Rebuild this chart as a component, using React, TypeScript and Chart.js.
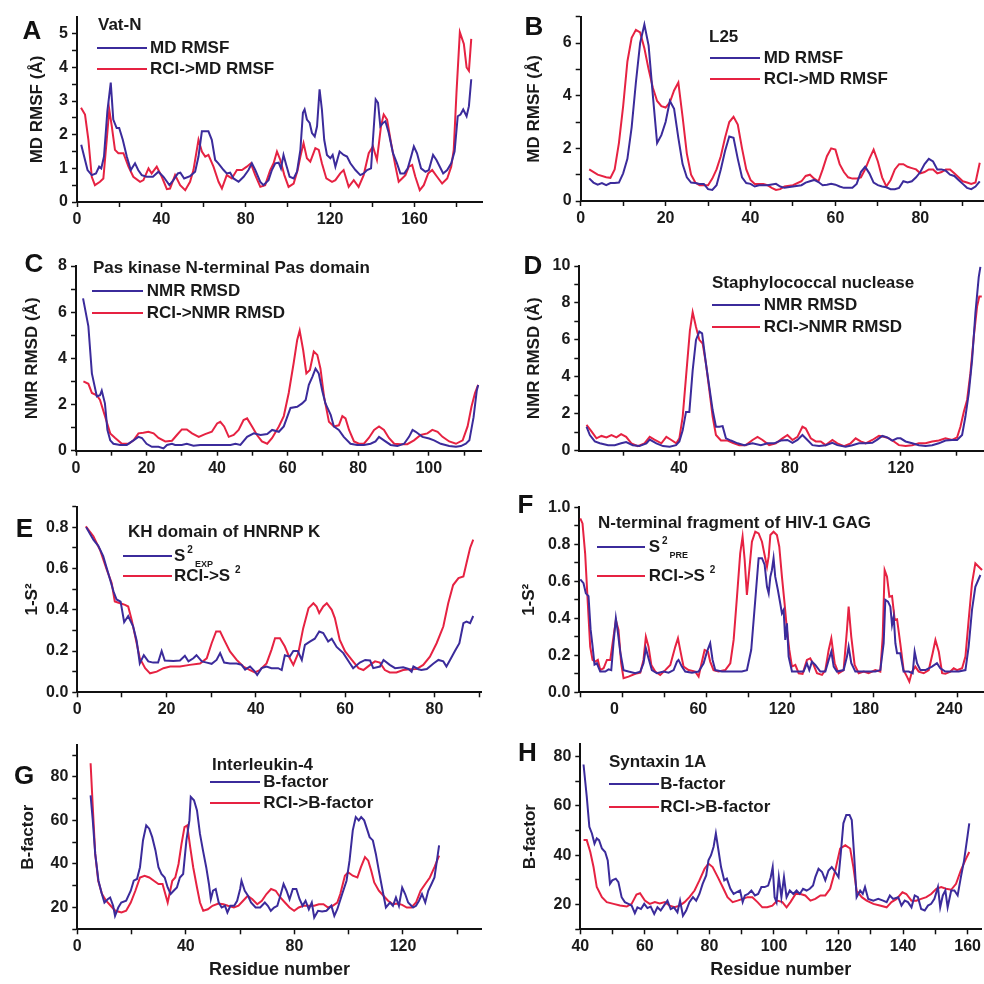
import React, { useEffect, useRef } from 'react';
import { Chart, registerables } from 'chart.js';

Chart.register(...registerables);

const FONT = '"Liberation Sans", Arial, Helvetica, sans-serif';
const BLUE = '#3b2b9b';
const RED = '#e62242';

// ---------- Panel A: Vat-N ----------
const A_MD = [[2,1.7],[5,0.95],[7,0.8],[9,0.85],[10.5,1.05],[11.5,1.0],[12.8,1.35],[14.4,2.7],[16,3.55],[17.2,2.45],[18.8,2.2],[20,2.2],[21.7,1.85],[23.6,1.35],[25.5,0.95],[27.5,1.15],[29,0.95],[30.7,0.8],[33,0.75],[36,0.75],[38.6,0.9],[41,0.75],[43.8,0.5],[45.7,0.65],[47.8,0.85],[49,0.87],[50.8,0.7],[53.6,0.77],[56,0.9],[57.6,1.35],[59.2,2.1],[62.3,2.1],[63.9,1.85],[65.5,1.25],[67,1.15],[69.5,0.95],[71,0.85],[72.6,0.87],[74.2,0.7],[76.6,0.6],[79,0.75],[81.3,0.95],[82.9,1.15],[84.5,0.95],[86.9,0.6],[88.4,0.5],[90.8,0.65],[92.4,0.95],[94,1.15],[95.6,1.17],[96.7,1.0],[97.9,1.4],[99.2,1.1],[100.8,0.75],[102.7,0.7],[104.3,0.9],[105.9,1.55],[107.1,2.65],[107.9,2.75],[109,2.45],[110.3,2.35],[111.4,2.05],[112.7,1.95],[113.8,2.25],[115,3.35],[116.1,2.75],[117.2,1.85],[118.5,1.4],[120.1,1.3],[121.2,1.4],[122.5,1.05],[124.5,1.5],[126.4,1.4],[128,1.35],[129.6,1.15],[132,0.95],[134.3,0.8],[135.9,0.85],[137.5,0.95],[139.4,1.0],[140.3,1.85],[141.6,3.05],[142.7,2.95],[143.8,2.25],[145.1,2.35],[146.2,2.4],[147.8,2.05],[149.8,1.45],[151.7,1.15],[153.3,0.85],[155.2,0.85],[156.8,1.0],[158.4,1.35],[159.7,1.65],[161.2,1.45],[163.1,1.0],[165.2,0.9],[166.8,0.95],[168.8,1.4],[170.4,1.25],[172,1.05],[173.6,0.85],[175.5,0.95],[177.4,1.15],[179,1.5],[180.5,2.55],[181.8,2.6],[183.1,2.75],[184.7,2.55],[185.8,2.85],[186.9,3.65]];
const A_RCI = [[1.9,2.8],[3.8,2.6],[5.4,1.85],[7,0.75],[8.5,0.5],[10.9,0.6],[12.5,0.7],[14.1,1.85],[15.3,2.75],[16.5,2.25],[18,1.55],[19.6,1.45],[22,1.45],[24.4,1.05],[26.7,0.75],[29.9,0.6],[31.5,0.65],[33.9,1.0],[35.4,0.85],[37.8,1.05],[40.2,0.75],[42.6,0.38],[44.1,0.4],[46.5,0.8],[48.9,0.5],[51.3,0.35],[53.6,0.6],[55.2,0.95],[57.6,1.85],[59.2,1.5],[60.8,1.35],[62.3,1.4],[64.7,1.05],[67.1,0.6],[68.7,0.4],[71,0.8],[73.4,0.7],[75.8,0.95],[78.2,0.95],[80.5,1.05],[82.4,1.15],[84.5,0.8],[86.9,0.45],[89.2,0.5],[91.6,0.95],[93.2,1.15],[94.8,1.5],[96.4,1.25],[98.3,0.8],[100.3,0.45],[102.7,0.55],[104.6,0.95],[105.9,1.35],[107.4,1.75],[109,1.3],[110.6,1.2],[113,1.6],[114.6,1.55],[116.1,1.15],[118.2,0.7],[120.9,0.6],[122.5,0.65],[124.8,0.85],[126.4,0.95],[128.8,0.45],[131.2,0.65],[133.5,0.45],[135.9,0.8],[138.3,1.45],[140.3,1.65],[142.2,1.25],[144.1,2.25],[145.4,2.6],[147,2.45],[148.9,1.75],[151,1.05],[152.5,0.6],[154.1,0.7],[155.7,0.8],[157.3,1.05],[158.9,1.1],[160.4,0.75],[162.5,0.35],[164.4,0.5],[166.5,0.85],[168.4,0.95],[170.7,0.75],[173.1,0.55],[175.5,0.7],[177.4,1.05],[178.6,1.55],[179.9,3.25],[181.5,5.05],[183.4,4.7],[184.7,4.0],[185.8,3.9],[186.9,4.85]];
const A_X_TICKS = [0,20,40,60,80,100,120,140,160,180];
const A_X_LABELS = [0,40,80,120,160];
const A_Y_TICKS = [0,0.5,1,1.5,2,2.5,3,3.5,4,4.5,5];
const A_Y_LABELS = [0,1,2,3,4,5];

// ---------- Panel B: L25 ----------
const B_MD = [[2,0.86],[3,0.7],[4,0.62],[5,0.68],[6,0.6],[7,0.68],[8,0.68],[9,0.7],[10,1.05],[11,1.6],[12,2.8],[13,4.5],[14,6.0],[15,6.7],[16,5.9],[17,4.0],[18,2.2],[19,2.5],[20,3.0],[21,3.8],[22,3.5],[23,2.4],[24,1.4],[25,0.9],[26,0.7],[27,0.68],[28,0.65],[29,0.65],[30,0.45],[31,0.42],[32,0.6],[33,1.2],[34,1.9],[35,2.45],[36,2.4],[37,1.6],[38,0.9],[39,0.68],[40,0.65],[41,0.55],[42,0.6],[44,0.6],[46,0.65],[47,0.55],[48,0.5],[50,0.55],[52,0.6],[53,0.7],[54,0.75],[55,0.8],[56,0.72],[57,0.6],[58,0.62],[59,0.65],[60,0.62],[61,0.55],[62,0.5],[63,0.5],[64,0.5],[65,0.65],[66,1.1],[67,1.3],[68,1.05],[69,0.7],[70,0.6],[71,0.55],[72,0.52],[73,0.45],[74,0.45],[75,0.5],[76,0.75],[77,0.7],[78,0.75],[79,0.9],[80,1.1],[81,1.4],[82,1.6],[83,1.5],[84,1.2],[85,1.2],[86,1.15],[87,1.0],[88,0.95],[89,0.8],[90,0.65],[91,0.5],[92,0.45],[93,0.55],[94,0.75]];
const B_RCI = [[2,1.2],[4,1.0],[6,0.9],[7,0.88],[8,1.2],[9,2.2],[10,3.6],[11,5.3],[12,6.2],[13,6.5],[14,6.4],[15,5.8],[16,5.0],[17,4.3],[18,3.8],[19,3.6],[20,3.55],[21,3.75],[22,4.2],[23,4.5],[24,3.2],[25,1.8],[26,1.0],[27,0.7],[28,0.6],[29,0.6],[30,0.6],[31,0.85],[32,1.2],[33,1.7],[34,2.4],[35,3.0],[36,3.2],[37,2.9],[38,2.0],[39,1.2],[40,0.8],[41,0.65],[42,0.65],[43,0.65],[44,0.6],[45,0.5],[46,0.42],[47,0.45],[48,0.55],[50,0.6],[52,0.75],[53,0.95],[54,1.0],[55,0.85],[56,0.75],[57,1.2],[58,1.7],[59,2.0],[60,1.95],[61,1.4],[62,1.1],[63,0.9],[64,0.85],[65,0.85],[66,0.9],[67,1.2],[68,1.6],[69,1.95],[70,1.5],[71,0.9],[72,0.55],[73,0.8],[74,1.2],[75,1.4],[76,1.4],[77,1.3],[78,1.25],[79,1.2],[80,1.05],[81,1.1],[82,1.2],[83,1.2],[84,1.05],[85,1.1],[86,1.2],[87,1.2],[88,1.05],[89,0.9],[90,0.75],[91,0.7],[92,0.65],[93,0.7],[94,1.45]];
const B_X_TICKS = [0,10,20,30,40,50,60,70,80,90];
const B_X_LABELS = [0,20,40,60,80];
const B_Y_TICKS = [0,1,2,3,4,5,6,7];
const B_Y_LABELS = [0,2,4,6];

// ---------- Panel C: Pas kinase ----------
const C_MD = [[2,6.6],[3.5,5.4],[4.5,3.35],[5.9,2.35],[6.8,2.4],[7.3,2.6],[8.2,2.05],[8.9,0.9],[9.7,0.45],[10.6,0.3],[12.5,0.25],[14.4,0.25],[16.3,0.45],[17.7,0.6],[18.7,0.55],[20,0.3],[21.5,0.17],[23.4,0.17],[24.8,0.1],[25.8,0.25],[27.2,0.3],[28.1,0.25],[30,0.25],[31.4,0.3],[33.3,0.22],[35.2,0.25],[37.1,0.25],[39,0.25],[40.9,0.25],[43.8,0.25],[45.2,0.3],[46.6,0.25],[48.5,0.6],[50.4,0.75],[52.3,0.68],[54.2,0.72],[55.6,0.9],[57.5,0.82],[58.9,1.05],[60.8,1.85],[62.7,1.9],[64.1,2.05],[65.1,2.2],[66,2.85],[67,3.2],[67.9,3.55],[68.8,3.35],[69.8,2.6],[70.7,2.05],[72.2,1.55],[73.1,1.05],[74.5,0.9],[75.9,0.6],[77.8,0.3],[79.7,0.25],[81.6,0.25],[83.5,0.3],[84.9,0.4],[85.9,0.6],[87.3,0.45],[89.2,0.25],[91.1,0.2],[93,0.3],[94.4,0.6],[95.4,0.9],[96.3,0.82],[98.2,0.6],[100.1,0.53],[101.5,0.45],[103.4,0.3],[105.8,0.2],[107.7,0.17],[109.1,0.2],[110.5,0.3],[111.5,0.45],[112.7,1.45],[113.6,2.6],[114,2.85]];
const C_RCI = [[2.1,3.0],[3.5,2.9],[4.5,2.5],[5.9,2.4],[6.8,2.2],[8.2,1.5],[9.7,0.75],[11.1,0.55],[13,0.3],[14.9,0.3],[16.3,0.45],[17.7,0.75],[19.1,0.78],[20.5,0.82],[22,0.75],[23.4,0.55],[25.3,0.4],[27.2,0.43],[28.6,0.68],[30,0.92],[31.4,0.92],[32.9,0.75],[34.8,0.6],[36.6,0.72],[38.5,0.82],[40,1.18],[40.9,1.25],[42,1.05],[43.3,0.6],[44.7,0.68],[46.1,0.9],[47.5,1.33],[48.5,1.4],[49.9,1.05],[51.3,0.68],[52.7,0.4],[54.2,0.3],[55.6,0.55],[57.5,1.05],[58.9,1.5],[60.3,2.5],[61.7,3.8],[62.7,4.8],[63.4,5.2],[64.4,4.35],[65.3,3.35],[66.3,3.5],[67.4,4.3],[68.4,4.15],[69.3,3.55],[70.3,2.35],[71.7,1.25],[73.1,1.05],[74.5,1.1],[75.5,1.5],[76.4,1.4],[77.4,0.9],[78.8,0.4],[80.2,0.3],[81.6,0.3],[83,0.55],[84.5,0.9],[85.9,1.05],[87.3,0.9],[88.7,0.55],[90.2,0.3],[92,0.28],[93.9,0.28],[95.8,0.45],[97.7,0.68],[99.6,0.75],[101,0.9],[102.5,0.82],[103.9,0.6],[105.8,0.4],[107.7,0.3],[109.6,0.45],[111,1.05],[112.1,1.9],[113.1,2.5],[114,2.85]];
const C_X_TICKS = [0,10,20,30,40,50,60,70,80,90,100,110];
const C_X_LABELS = [0,20,40,60,80,100];
const C_Y_TICKS = [0,1,2,3,4,5,6,7,8];
const C_Y_LABELS = [0,2,4,6,8];

// ---------- Panel D: Staphylococcal nuclease ----------
const D_MD = [[6.6,1.3],[7.8,0.85],[9.6,0.5],[11.4,0.4],[14.4,0.3],[16.8,0.3],[19.1,0.4],[20.9,0.47],[23.3,0.3],[25.7,0.25],[28.2,0.4],[29.4,0.6],[31.8,0.4],[34.2,0.25],[36.6,0.22],[38.9,0.3],[40.1,0.5],[41.3,1.1],[42.5,2.1],[43.7,2.1],[44.9,4.35],[46.1,6.0],[47.3,6.45],[48.3,6.35],[49.7,4.7],[50.9,3.45],[52.1,2.2],[53.3,1.3],[54.5,1.3],[55.7,1.33],[56.9,0.67],[58.7,0.55],[61.1,0.4],[63.5,0.3],[66.5,0.4],[69.5,0.3],[71.9,0.4],[74.3,0.4],[76.7,0.55],[79.1,0.58],[80.9,0.43],[82.7,0.58],[84.5,0.85],[86.3,0.58],[88.1,0.3],[90.5,0.25],[92.9,0.3],[95.3,0.43],[97.1,0.3],[100.1,0.22],[102.5,0.3],[104.9,0.4],[107.3,0.4],[109.7,0.43],[111.5,0.6],[113.3,0.8],[115.1,0.72],[116.9,0.55],[118.7,0.67],[119.9,0.67],[121.7,0.5],[124.1,0.4],[126.5,0.3],[128.9,0.25],[131.3,0.3],[133.7,0.4],[136.1,0.55],[138.5,0.58],[140.3,0.58],[142.1,0.85],[143.3,1.85],[144.5,3.1],[145.7,4.9],[146.9,7.45],[148.1,9.4],[148.7,9.95]];
const D_RCI = [[6.6,1.4],[8.4,1.05],[10.2,0.67],[12,0.8],[13.8,0.72],[15.6,0.85],[17.4,0.72],[19.1,0.9],[20.9,0.75],[22.8,0.4],[25.1,0.25],[27.5,0.4],[29.4,0.75],[31.1,0.6],[33.6,0.4],[35.4,0.75],[37.2,0.58],[39,0.4],[40.1,0.67],[41.3,1.85],[42.5,4.0],[43.9,6.5],[44.9,7.5],[46.1,6.7],[47.3,6.0],[48.5,5.8],[49.7,4.7],[50.9,3.3],[52.1,1.85],[53.3,0.85],[55.1,0.55],[57.5,0.55],[59.3,0.43],[61.7,0.3],[64.1,0.3],[66.5,0.58],[68.3,0.75],[70.1,0.58],[72.5,0.3],[74.9,0.4],[77.3,0.67],[79.1,0.85],[80.9,0.58],[82.7,0.75],[84.5,1.3],[85.7,1.2],[87.5,0.67],[89.3,0.5],[91.1,0.5],[92.9,0.3],[95.3,0.58],[97.1,0.4],[99.5,0.25],[101.9,0.4],[103.7,0.67],[105.5,0.5],[107.3,0.4],[109.7,0.58],[112.1,0.8],[113.9,0.75],[115.7,0.67],[117.5,0.5],[119.3,0.3],[121.7,0.25],[124.1,0.3],[126.5,0.4],[128.9,0.4],[131.3,0.5],[133.7,0.55],[136.1,0.67],[138.5,0.58],[140.3,0.72],[141.5,1.3],[142.7,2.1],[143.9,2.75],[145.1,4.2],[146.3,6.15],[147.5,7.8],[148.3,8.35],[149.2,8.35]];
const D_X_TICKS = [20,40,60,80,100,120,140];
const D_X_LABELS = [40,80,120];
const D_Y_TICKS = [0,1,2,3,4,5,6,7,8,9,10];
const D_Y_LABELS = [0,2,4,6,8,10];

// ---------- Panel E: KH domain of HNRNP K ----------
const E_EXP = [[2,0.8],[3.6,0.74],[4.7,0.71],[5.8,0.66],[6.9,0.58],[8.1,0.49],[8.8,0.45],[9.7,0.44],[10.5,0.34],[11.4,0.37],[12.5,0.32],[13.3,0.25],[14,0.14],[14.9,0.18],[15.9,0.15],[17,0.144],[18.1,0.144],[18.9,0.2],[19.6,0.154],[21.5,0.152],[23,0.154],[24.1,0.177],[24.9,0.15],[26,0.165],[26.7,0.18],[27.9,0.15],[29,0.144],[30.1,0.138],[31.2,0.157],[32,0.19],[32.9,0.144],[34.2,0.14],[35.7,0.14],[36.8,0.133],[37.6,0.11],[38.7,0.125],[39.8,0.1],[40.3,0.084],[41.3,0.117],[42.4,0.125],[43.5,0.117],[45,0.117],[45.8,0.108],[46.5,0.18],[47.6,0.173],[48.4,0.2],[49.4,0.2],[50.3,0.157],[51,0.23],[52.1,0.246],[53.2,0.26],[54.2,0.295],[55.1,0.287],[56.2,0.246],[57,0.26],[58.1,0.22],[59.6,0.19],[61.1,0.14],[61.8,0.117],[63.3,0.144],[64.5,0.157],[65.6,0.154],[66.3,0.117],[67.8,0.125],[68.6,0.157],[70,0.133],[71.2,0.117],[73,0.121],[74.2,0.113],[74.9,0.1],[75.3,0.125],[76.4,0.112],[77.1,0.108],[78.3,0.113],[79.8,0.14],[80.9,0.157],[82,0.15],[82.7,0.125],[83.6,0.16],[84.6,0.2],[85.6,0.238],[86.5,0.335],[87.2,0.343],[88,0.335],[88.7,0.37]];
const E_RCI = [[1.9,0.805],[3.6,0.757],[5.1,0.69],[6.6,0.595],[7.7,0.53],[8.4,0.44],[9.6,0.432],[10.7,0.424],[11.4,0.416],[12.2,0.35],[13.3,0.238],[14,0.165],[15.2,0.117],[16.3,0.092],[17.8,0.1],[19.3,0.117],[20.8,0.125],[23,0.125],[25.2,0.133],[27.5,0.14],[29,0.165],[30.1,0.238],[31.1,0.295],[32,0.295],[32.9,0.254],[34.2,0.198],[35.7,0.157],[37.2,0.125],[38.7,0.108],[39.8,0.096],[40.9,0.108],[42.4,0.14],[43.5,0.206],[44.3,0.262],[45.4,0.262],[46.5,0.222],[47.6,0.165],[48.4,0.133],[49.5,0.19],[50.6,0.31],[51.8,0.408],[52.9,0.432],[53.6,0.416],[54.2,0.384],[55.1,0.416],[55.9,0.432],[57,0.4],[57.7,0.36],[58.8,0.254],[60,0.198],[61.5,0.157],[63,0.117],[64.1,0.108],[65.6,0.133],[66.7,0.15],[67.8,0.144],[68.9,0.108],[70,0.096],[71.5,0.096],[73,0.108],[74.5,0.112],[76,0.113],[77.5,0.133],[79,0.173],[80.5,0.238],[82,0.319],[83.1,0.432],[84.2,0.52],[85.4,0.554],[86.5,0.562],[87.2,0.627],[88,0.7],[88.7,0.74]];
const E_X_TICKS = [0,10,20,30,40,50,60,70,80,90];
const E_X_LABELS = [0,20,40,60,80];
const E_Y_TICKS = [0,0.1,0.2,0.3,0.4,0.5,0.6,0.7,0.8,0.9];
const E_Y_LABELS = [0,0.2,0.4,0.6,0.8];

// ---------- Panel F: N-terminal fragment of HIV-1 GAG ----------
const F_PRE = [[-30.3,0.61],[-28,0.59],[-26.3,0.535],[-24.4,0.52],[-22.9,0.34],[-21.5,0.25],[-20.1,0.15],[-18.4,0.157],[-16,0.112],[-12.4,0.112],[-10,0.124],[-8.1,0.12],[-6.5,0.265],[-4.8,0.4],[-3.3,0.32],[-1.7,0.22],[0.7,0.12],[4.3,0.112],[9.1,0.103],[12.7,0.112],[15,0.157],[16.7,0.238],[18.6,0.184],[21,0.12],[24.6,0.103],[29.4,0.112],[33,0.106],[36.6,0.12],[39,0.166],[40.1,0.175],[42.5,0.139],[44.9,0.112],[49.7,0.106],[54.5,0.112],[58.1,0.157],[60.5,0.22],[62.8,0.265],[64.5,0.175],[66.4,0.12],[71.2,0.112],[78.4,0.112],[85.5,0.112],[89.1,0.12],[92.2,0.23],[95.1,0.5],[97.5,0.725],[99.9,0.725],[101.8,0.69],[103.5,0.57],[104.7,0.535],[105.9,0.625],[107,0.66],[108.2,0.725],[109.4,0.625],[111.3,0.553],[113,0.48],[114.2,0.427],[115.4,0.445],[116.6,0.283],[117.8,0.373],[119,0.193],[121.4,0.112],[126.2,0.112],[129.7,0.112],[132.1,0.157],[133.8,0.12],[135.7,0.166],[138.1,0.148],[141.7,0.112],[145.3,0.112],[147.7,0.175],[149.6,0.22],[151.3,0.139],[153.6,0.112],[158.4,0.12],[160.8,0.193],[162,0.247],[163.9,0.157],[166.8,0.112],[171.6,0.112],[176.3,0.112],[181.1,0.112],[184.7,0.12],[187.1,0.265],[188.3,0.5],[190.2,0.49],[191.9,0.463],[193.1,0.364],[194.3,0.409],[195.5,0.265],[196.7,0.211],[199,0.211],[201.4,0.112],[205,0.112],[207.9,0.103],[209.3,0.22],[211,0.157],[213.4,0.12],[217,0.12],[221.7,0.139],[225.3,0.157],[227.7,0.13],[231.3,0.112],[236.1,0.112],[240.9,0.112],[245.7,0.12],[248,0.247],[250.4,0.445],[252.8,0.57],[256.4,0.634]];
const F_RCI = [[-30.3,0.94],[-28.7,0.913],[-26.8,0.75],[-24.9,0.48],[-23.2,0.247],[-21.5,0.175],[-19.6,0.166],[-17.7,0.175],[-16,0.12],[-13.6,0.13],[-11.2,0.175],[-8.8,0.175],[-6.5,0.3],[-4.8,0.39],[-2.9,0.337],[-1,0.157],[0.7,0.076],[4.3,0.085],[9.1,0.1],[12.7,0.106],[15,0.175],[16.7,0.3],[18.6,0.247],[20.6,0.148],[23.4,0.112],[27,0.094],[30.6,0.12],[34.2,0.148],[37.8,0.247],[39.7,0.292],[41.3,0.229],[43.7,0.139],[47.3,0.12],[52.1,0.112],[54.5,0.085],[56.9,0.166],[58.8,0.229],[61.2,0.22],[62.8,0.166],[65.2,0.12],[68.8,0.112],[73.6,0.12],[77.2,0.157],[79.6,0.283],[82,0.517],[84.3,0.751],[86,0.841],[87.5,0.715],[89.1,0.526],[90.8,0.661],[92.7,0.814],[95.1,0.868],[97.5,0.859],[99.9,0.814],[101.8,0.742],[103.5,0.679],[104.7,0.733],[105.9,0.85],[108.2,0.868],[110.6,0.85],[112.3,0.787],[114.2,0.625],[116.1,0.481],[117.8,0.337],[119.5,0.229],[121.4,0.139],[123.8,0.148],[126.2,0.103],[129,0.1],[132.1,0.175],[134.5,0.184],[136.9,0.148],[139.3,0.103],[142.9,0.094],[145.3,0.12],[147.7,0.229],[149.6,0.292],[152,0.157],[154.8,0.103],[158.4,0.12],[160.8,0.337],[162,0.463],[163.9,0.3],[166.3,0.148],[169.2,0.103],[172.8,0.112],[176.3,0.103],[181.1,0.12],[184.7,0.112],[186.4,0.3],[187.8,0.661],[189.5,0.625],[191.2,0.517],[193.1,0.521],[195,0.391],[196.7,0.395],[199,0.265],[201.4,0.12],[203.8,0.085],[205.5,0.058],[207.4,0.112],[209.8,0.139],[212.2,0.112],[215.8,0.103],[219.4,0.12],[222.2,0.211],[224.2,0.283],[226.6,0.22],[229,0.103],[231.3,0.1],[234.9,0.112],[237.3,0.13],[239.7,0.12],[243.3,0.13],[245.7,0.193],[248,0.391],[250.4,0.589],[252.8,0.697],[255.2,0.679],[257.6,0.661]];
const F_X_TICKS = [-30,0,30,60,90,120,150,180,210,240];
const F_X_LABELS = [0,60,120,180,240];
const F_Y_TICKS = [0,0.1,0.2,0.3,0.4,0.5,0.6,0.7,0.8,0.9,1.0];
const F_Y_LABELS = [0,0.2,0.4,0.6,0.8,1.0];

// ---------- Panel G: Interleukin-4 ----------
const G_BF = [[4.9,71.5],[5.7,60],[6.6,44.6],[7.8,32.3],[8.9,26.9],[10,22.3],[11.2,23.8],[12.1,24.6],[13.2,20.8],[13.9,16.2],[15.1,20],[16.2,22.3],[18,23.1],[19.7,27.7],[20.8,32.3],[22,33.1],[23.1,38.5],[24.2,50.8],[25.4,57.7],[26.5,56.2],[27.6,52.3],[28.8,46.2],[29.9,38.5],[31,35.4],[32.2,33.8],[33.3,29.2],[34.4,26.2],[35.5,27.7],[36.7,29.2],[37.8,33.8],[39,35.4],[40.2,50.8],[41.3,60],[41.8,70.8],[43,69.2],[44.1,64.6],[45.2,53.8],[46.3,46.2],[47.5,38.5],[48.5,30.8],[49.2,23.8],[50,27.7],[51,28.5],[52.1,22.3],[53.2,20],[54.4,20.8],[55.3,17.7],[56.4,20.8],[57.8,20.8],[58.9,23.1],[60,28.5],[60.5,32.3],[61.7,27.7],[62.9,25.4],[64,22.3],[65.7,20],[67.4,20],[69.1,22.3],[70.2,20.8],[71.3,18.5],[72.5,20],[73.7,20.8],[74.8,25.4],[76,30.8],[77.1,27.7],[78.2,23.8],[79.4,28.5],[80.7,28.5],[81.9,23.8],[83,20.8],[84.1,23.1],[85.3,19.2],[86.4,22.3],[87.3,15.4],[88.7,18.5],[90.2,18.2],[91.8,18.5],[93.6,20.8],[94.7,16.2],[95.8,19.2],[97.6,26.2],[99.2,32.3],[100.3,41.5],[101.5,55.4],[102.6,61.5],[103.7,60],[104.6,61.5],[105.7,60],[106.9,55.4],[107.7,52.3],[108.9,50.8],[110,44.6],[111.1,36.9],[112.5,27.7],[113.7,20],[115.2,22.3],[116.3,20.8],[117.4,24.6],[118.5,20.8],[119.7,29.2],[120.8,26.2],[121.9,22.3],[123.7,20],[124.8,20.8],[125.9,23.1],[127,26.2],[128.2,22.3],[129.3,27.7],[130.5,30.8],[131.6,33.8],[132.5,41.5],[133.3,48.5]];
const G_RCI = [[4.9,86.2],[5.7,66.2],[6.6,44.6],[7.7,32.3],[9.1,26.2],[10.6,23.1],[12.3,20.8],[14,18.5],[16.3,17.7],[18,18.5],[19.7,22.3],[21.4,27.7],[23.1,33.8],[24.8,34.6],[26.5,33.8],[28.2,32.3],[29.9,30.8],[31.4,30.8],[33.3,22.3],[35,32.3],[36.1,33.8],[37.3,40],[38.4,49.2],[39.5,56.9],[40.5,57.7],[41.6,47.7],[42.7,38.5],[44.1,29.2],[45.2,22.3],[46.4,18.5],[48.1,19.2],[49.8,20.8],[52,21.8],[53.8,21.5],[55.5,20.8],[57.7,20],[59.4,20.8],[61.1,23.1],[62.8,25.4],[64.5,23.8],[66.3,21.5],[68,23.1],[69.7,26.2],[71.4,28.5],[73.1,27.7],[74.8,24.6],[76.5,22.3],[78.2,20],[79.9,18.5],[81.6,20],[83.3,20.8],[85,20.8],[87.3,20.8],[89,21.5],[90.7,21.5],[92.4,20],[94.1,20.8],[95.8,22.3],[96.9,26.2],[98.6,34.6],[99.8,36.2],[101.5,34.6],[103.2,33.8],[104.5,38.5],[106,43.1],[107.2,41.5],[108.3,36.9],[109.4,31.5],[111.1,27.7],[112.8,25.4],[114.5,23.1],[116.3,21.5],[118,21.8],[119.7,21.2],[121.4,20],[123.1,20],[124.8,22.3],[126.5,27.7],[128.2,30.8],[129.9,33.8],[131.6,38.5],[133.3,43.8]];
const G_X_TICKS = [0,20,40,60,80,100,120,140];
const G_X_LABELS = [0,40,80,120];
const G_Y_TICKS = [10,20,30,40,50,60,70,80,90];
const G_Y_LABELS = [20,40,60,80];

// ---------- Panel H: Syntaxin 1A ----------
const H_BF = [[41,76.7],[42,63.7],[42.8,51.5],[43.6,48.8],[44.4,44.7],[45.1,46.8],[45.8,46.1],[46.7,42.7],[47.7,41.3],[48.5,37.9],[49.2,28.4],[49.9,29.8],[51,30.5],[51.8,29.1],[52.8,23],[53.8,21],[54.9,20.3],[55.9,19.6],[56.9,16.5],[57.7,18.9],[58.8,18.2],[59.8,20.3],[60.8,18.6],[61.8,19.2],[62.9,16.2],[63.9,18.9],[64.9,17.6],[65.9,19.6],[67,21.6],[68,18.2],[69,18.9],[70.1,16.9],[70.9,21.6],[71.8,15.5],[72.8,17.6],[73.8,21],[74.9,23],[75.9,21.6],[76.9,24.3],[77.9,28.4],[79,31.8],[79.7,37.9],[80.5,40],[81.3,43.4],[82,48.8],[82.8,42],[83.6,35.2],[84.6,29.8],[85.4,30.5],[86.5,26.4],[87.5,24.3],[88.5,25],[89.5,25.7],[90.3,21],[91,23.7],[92,24.3],[93,25.7],[94.1,23.7],[95.1,24.3],[96.1,27.1],[97.1,27.1],[98.2,27.7],[99,31.1],[99.6,35.2],[100.2,23],[100.8,21],[101.5,31.1],[102.3,23],[103.1,31.1],[103.9,23],[104.9,25.7],[106,24.3],[107,25.7],[108,24.3],[109,26.4],[110.1,25.7],[111.1,26.4],[112.1,27.7],[112.8,31.1],[113.8,34.5],[114.9,33.2],[115.9,29.8],[116.9,33.8],[117.9,35.2],[119,33.2],[120,31.1],[120.7,40.7],[121.5,52.9],[122.4,56.3],[123.4,56.3],[124.1,54.2],[124.8,40.7],[125.6,23],[126.7,25.7],[127.5,24.3],[128.2,27.1],[129.2,22.3],[130.8,21.6],[132.3,22.3],[133.8,21.6],[134.9,21],[135.9,23.7],[136.9,22.3],[138.5,23],[139.5,19.6],[140.5,21.6],[141.5,21],[142.6,18.9],[143.6,23.7],[144.6,23],[145.6,18.2],[146.7,17.6],[147.7,19.6],[148.7,20.3],[149.7,22.3],[150.8,27.1],[151.5,18.9],[152.3,23.7],[153.1,25.7],[153.8,18.9],[154.9,25.7],[155.9,25.7],[156.9,23.7],[157.9,31.1],[158.9,37.9],[160,48.1],[160.5,52.9]];
const H_RCI = [[41,46.1],[42,46.1],[43.1,41.3],[44.1,35.2],[45.1,27.1],[46.7,23],[48.2,21],[50.3,20.3],[52.3,19.6],[54.4,19.2],[55.9,20.3],[57.4,24.1],[58.5,24.6],[60,21.6],[61.5,20.3],[63.1,21],[64.6,20.5],[66.2,21],[67.7,19.6],[69.2,18.9],[70.8,19.6],[72.3,21],[73.8,23],[75.4,25.7],[76.9,29.8],[78.5,34.5],[79.7,36.6],[81,35.2],[82.6,31.1],[84.1,27.1],[85.6,23],[87.2,21],[88.7,21.6],[90.3,22.3],[91.8,23],[93.3,23],[94.9,21],[96.4,18.9],[97.9,18.9],[99.5,19.6],[101,21.6],[102.6,21],[103.9,18.9],[105.1,21],[106.7,24.3],[108.2,24.3],[109.7,23.7],[111.3,21.6],[112.8,22.3],[114.4,23.7],[115.9,23.7],[117.4,26.4],[119,33.9],[120.5,42.7],[122.1,44],[123.6,42.7],[124.6,35.2],[125.6,25.7],[127.2,23],[128.7,21.6],[130.8,20.3],[132.8,19.6],[134.9,18.9],[136.4,21],[138,22.3],[139.8,25],[141,24.3],[142.6,21.6],[144.1,21.6],[145.6,22.3],[147.2,23],[148.7,24.3],[150.3,26.4],[151.8,27.1],[153.3,26.4],[154.9,26],[156.4,28.4],[157.9,33.9],[159.5,38.6],[160.5,41.3]];
const H_X_TICKS = [40,50,60,70,80,90,100,110,120,130,140,150,160];
const H_X_LABELS = [40,60,80,100,120,140,160];
const H_Y_TICKS = [10,20,30,40,50,60,70,80];
const H_Y_LABELS = [20,40,60,80];

type Pair = number[];
type Spec = {
  letter: string; title: string; yTitle: string; xTitle?: string;
  names: [string, string];
  blue: Pair[]; red: Pair[];
  xMin: number; xMax: number; yMin: number; yMax: number;
  xTicks: number[]; xLabels: number[]; yTicks: number[]; yLabels: number[]; yDec: number;
  box: [number, number, number, number];
  area: [number, number, number, number];
  yTitleX: number;
  xLabelShift: number;
  letterPos: [number, number];
  leg: { tx: number; ty: number; lx1: number; lx2: number; y1: number; y2: number; textX: number };
};

const SPECS: Spec[] = [
  { letter: 'A', title: 'Vat-N', yTitle: 'MD RMSF (Å)', names: ['MD RMSF', 'RCI->MD RMSF'], blue: A_MD, red: A_RCI,
    xMin: 0, xMax: 192, yMin: 0, yMax: 5.5, xTicks: A_X_TICKS, xLabels: A_X_LABELS, yTicks: A_Y_TICKS, yLabels: A_Y_LABELS, yDec: 0,
    box: [0, 0, 492, 236], area: [77, 17, 482, 202], yTitleX: 37, xLabelShift: 0, letterPos: [32, 29.5],
    leg: { tx: 98, ty: 25, lx1: 97, lx2: 147, y1: 47.7, y2: 69.3, textX: 150 } },
  { letter: 'B', title: 'L25', yTitle: 'MD RMSF (Å)', names: ['MD RMSF', 'RCI->MD RMSF'], blue: B_MD, red: B_RCI,
    xMin: 0, xMax: 95, yMin: 0, yMax: 7, xTicks: B_X_TICKS, xLabels: B_X_LABELS, yTicks: B_Y_TICKS, yLabels: B_Y_LABELS, yDec: 0,
    box: [492, 0, 492, 236], area: [580.7, 16.7, 984, 201], yTitleX: 534, xLabelShift: 0, letterPos: [534, 25.5],
    leg: { tx: 709, ty: 37, lx1: 710, lx2: 760, y1: 58, y2: 79.3, textX: 763.7 } },
  { letter: 'C', title: 'Pas kinase N-terminal Pas domain', yTitle: 'NMR RMSD (Å)', names: ['NMR RMSD', 'RCI->NMR RMSD'], blue: C_MD, red: C_RCI,
    xMin: 0, xMax: 115, yMin: 0, yMax: 8, xTicks: C_X_TICKS, xLabels: C_X_LABELS, yTicks: C_Y_TICKS, yLabels: C_Y_LABELS, yDec: 0,
    box: [0, 236, 492, 240], area: [76, 266, 481.7, 450.7], yTitleX: 32, xLabelShift: 0, letterPos: [34, 262.5],
    leg: { tx: 93, ty: 268, lx1: 92, lx2: 143, y1: 290.7, y2: 312.7, textX: 146.7 } },
  { letter: 'D', title: 'Staphylococcal nuclease', yTitle: 'NMR RMSD (Å)', names: ['NMR RMSD', 'RCI->NMR RMSD'], blue: D_MD, red: D_RCI,
    xMin: 4, xMax: 150, yMin: 0, yMax: 10, xTicks: D_X_TICKS, xLabels: D_X_LABELS, yTicks: D_Y_TICKS, yLabels: D_Y_LABELS, yDec: 0,
    box: [492, 236, 492, 240], area: [579.3, 266, 984, 450.7], yTitleX: 534, xLabelShift: 0, letterPos: [533, 264.5],
    leg: { tx: 712, ty: 283, lx1: 712, lx2: 760, y1: 305, y2: 326.7, textX: 763.7 } },
  { letter: 'E', title: 'KH domain of HNRNP K', yTitle: '1-S²', names: ['S2EXP', 'RCI->S2'], blue: E_EXP, red: E_RCI,
    xMin: 0, xMax: 90.6, yMin: 0, yMax: 0.9, xTicks: E_X_TICKS, xLabels: E_X_LABELS, yTicks: E_Y_TICKS, yLabels: E_Y_LABELS, yDec: 1,
    box: [0, 476, 492, 240], area: [77.3, 506.7, 481.7, 692.3], yTitleX: 32, xLabelShift: 0, letterPos: [24.5, 527.5],
    leg: { tx: 128, ty: 531.7, lx1: 123, lx2: 172, y1: 556, y2: 576, textX: 174 } },
  { letter: 'F', title: 'N-terminal fragment of HIV-1 GAG', yTitle: '1-S²', names: ['S2PRE', 'RCI->S2'], blue: F_PRE, red: F_RCI,
    xMin: -31, xMax: 259, yMin: 0, yMax: 1.0, xTicks: F_X_TICKS, xLabels: F_X_LABELS, yTicks: F_Y_TICKS, yLabels: F_Y_LABELS, yDec: 1,
    box: [492, 476, 492, 240], area: [579.3, 507.3, 984, 692.3], yTitleX: 529, xLabelShift: -8, letterPos: [525.5, 503.5],
    leg: { tx: 598, ty: 523.3, lx1: 597, lx2: 645, y1: 547.3, y2: 576, textX: 648.7 } },
  { letter: 'G', title: 'Interleukin-4', yTitle: 'B-factor', xTitle: 'Residue number', names: ['B-factor', 'RCI->B-factor'], blue: G_BF, red: G_RCI,
    xMin: 0, xMax: 149, yMin: 10, yMax: 94.6, xTicks: G_X_TICKS, xLabels: G_X_LABELS, yTicks: G_Y_TICKS, yLabels: G_Y_LABELS, yDec: 0,
    box: [0, 716, 492, 268], area: [77.3, 745, 481.7, 929.3], yTitleX: 28, xLabelShift: 0, letterPos: [24, 774.5],
    leg: { tx: 212, ty: 765, lx1: 210, lx2: 260, y1: 781.7, y2: 803.3, textX: 263.3 } },
  { letter: 'H', title: 'Syntaxin 1A', yTitle: 'B-factor', xTitle: 'Residue number', names: ['B-factor', 'RCI->B-factor'], blue: H_BF, red: H_RCI,
    xMin: 40, xMax: 164.2, yMin: 10, yMax: 85, xTicks: H_X_TICKS, xLabels: H_X_LABELS, yTicks: H_Y_TICKS, yLabels: H_Y_LABELS, yDec: 0,
    box: [492, 716, 492, 268], area: [580.3, 744, 984, 929.3], yTitleX: 530, xLabelShift: 0, letterPos: [527.5, 751.5],
    leg: { tx: 609, ty: 761.7, lx1: 609, lx2: 659, y1: 784.3, y2: 807.3, textX: 660.3 } },
];

const has = (arr: number[], v: number) => arr.some((a) => Math.abs(a - v) < 1e-6);

function PanelChart({ s }: { s: Spec }) {
  const ref = useRef<HTMLCanvasElement | null>(null);
  const [bx, by, bw, bh] = s.box;
  useEffect(() => {
    const [L, T, R, B] = s.area;
    const yW = L - bx;
    const xH = by + bh - B;
    const tickFont = { family: FONT, size: 16, weight: 'bold' as const };
    const titleFont = { family: FONT, size: 17, weight: 'bold' as const };
    const chart = new Chart(ref.current as HTMLCanvasElement, {
      type: 'line',
      data: {
        datasets: [
          { label: s.names[0], data: s.blue.map(([x, y]) => ({ x, y })), borderColor: BLUE, backgroundColor: BLUE, borderWidth: 2, pointRadius: 0, tension: 0, fill: false },
          { label: s.names[1], data: s.red.map(([x, y]) => ({ x, y })), borderColor: RED, backgroundColor: RED, borderWidth: 2, pointRadius: 0, tension: 0, fill: false },
        ],
      },
      options: {
        responsive: false,
        animation: false,
        devicePixelRatio: 1,
        layout: { padding: { left: 0, top: T - by, right: bx + bw - R, bottom: 0 } },
        plugins: { legend: { display: false }, tooltip: { enabled: false } },
        scales: {
          x: {
            type: 'linear', min: s.xMin, max: s.xMax,
            afterBuildTicks: (sc: any) => { sc.ticks = s.xTicks.map((v) => ({ value: v })); },
            afterFit: (sc: any) => { sc.height = xH; },
            ticks: { autoSkip: false, maxRotation: 0, minRotation: 0, padding: 3, labelOffset: s.xLabelShift, color: '#1a1a1a', font: tickFont,
              callback: (v: any) => (has(s.xLabels, Number(v)) ? String(v) : '') },
            grid: { drawOnChartArea: false, drawTicks: true, tickLength: 5, tickColor: '#111', tickWidth: 1.5 },
            border: { display: true, color: '#111', width: 2 },
            title: s.xTitle
              ? { display: true, text: s.xTitle, color: '#1a1a1a', font: { family: FONT, size: 18, weight: 'bold' }, padding: { top: 0, bottom: (by + bh) - 970 - 10.8 } }
              : { display: false },
          },
          y: {
            type: 'linear', min: s.yMin, max: s.yMax,
            afterBuildTicks: (sc: any) => { sc.ticks = s.yTicks.map((v) => ({ value: v })); },
            afterFit: (sc: any) => { sc.width = yW; },
            ticks: { autoSkip: false, padding: 4, color: '#1a1a1a', font: tickFont,
              callback: (v: any) => (has(s.yLabels, Number(v)) ? Number(v).toFixed(s.yDec) : '') },
            grid: { drawOnChartArea: false, drawTicks: true, tickLength: 5, tickColor: '#111', tickWidth: 1.5 },
            border: { display: true, color: '#111', width: 2 },
            title: { display: true, text: s.yTitle, color: '#1a1a1a', font: titleFont, padding: { top: s.yTitleX - bx - 10.2, bottom: 0 } },
          },
        },
      } as any,
    });
    return () => chart.destroy();
  }, [s]);
  return (
    <canvas ref={ref} width={bw} height={bh}
      style={{ position: 'absolute', left: bx, top: by, width: bw, height: bh }} />
  );
}

const textStyle = (left: number, cy: number): React.CSSProperties => ({
  position: 'absolute', left, top: cy - 10, font: `bold 17px ${FONT}`, lineHeight: '20px',
  whiteSpace: 'nowrap', color: '#1a1a1a',
});

function LegendLabel({ name }: { name: string }) {
  if (name === 'S2EXP' || name === 'S2PRE') {
    const sub = name.slice(2);
    return (
      <span>S<span style={{ fontSize: 10, position: 'relative', top: -8, marginLeft: 2 }}>2</span>
        <span style={{ fontSize: 9, position: 'relative', top: 6, marginLeft: 2 }}>{sub}</span></span>
    );
  }
  if (name === 'RCI->S2') {
    return (<span>RCI-&gt;S <span style={{ fontSize: 10, position: 'relative', top: -8 }}>2</span></span>);
  }
  return <span>{name}</span>;
}

function Overlay({ s }: { s: Spec }) {
  const g = s.leg;
  return (
    <>
      <div style={{ position: 'absolute', left: s.letterPos[0], top: s.letterPos[1] - 13, transform: 'translateX(-50%)',
        font: `bold 26px ${FONT}`, lineHeight: '26px', color: '#111' }}>{s.letter}</div>
      <div style={textStyle(g.tx, g.ty)}>{s.title}</div>
      <div style={{ position: 'absolute', left: g.lx1, top: g.y1 - 1, width: g.lx2 - g.lx1, height: 2, background: BLUE }} />
      <div style={textStyle(g.textX, g.y1)}><LegendLabel name={s.names[0]} /></div>
      <div style={{ position: 'absolute', left: g.lx1, top: g.y2 - 1, width: g.lx2 - g.lx1, height: 2, background: RED }} />
      <div style={textStyle(g.textX, g.y2)}><LegendLabel name={s.names[1]} /></div>
    </>
  );
}

export default function App() {
  return (
    <div style={{ position: 'absolute', left: 0, top: 0, width: 984, height: 984, background: '#ffffff', overflow: 'hidden' }}>
      {SPECS.map((s) => <PanelChart key={s.letter} s={s} />)}
      {SPECS.map((s) => <Overlay key={'o' + s.letter} s={s} />)}
    </div>
  );
}
